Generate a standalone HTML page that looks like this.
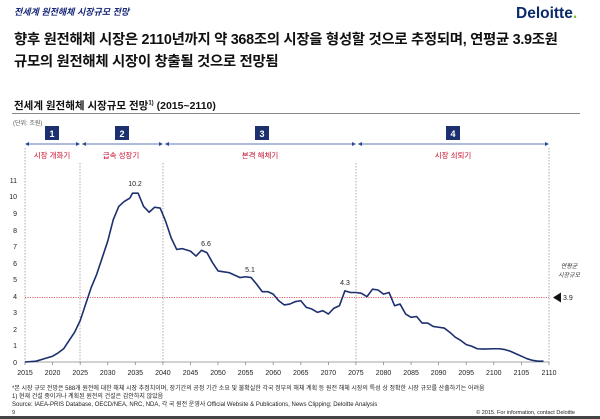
<!DOCTYPE html>
<html><head><meta charset="utf-8"><style>
body{margin:0;width:600px;height:419px;background:#fff;overflow:hidden;position:relative;font-family:"Liberation Sans","Noto Sans CJK KR",sans-serif}
.a{position:absolute;white-space:nowrap}
</style></head><body>
<div class="a" style="left:14px;top:5px;font-size:9px;font-style:italic;font-weight:bold;color:#1a2a7a">전세계 원전해체 시장규모 전망</div>
<div class="a" style="left:516px;top:5px;font-size:15.5px;font-weight:bold;color:#0b2a6b">Deloitte<span style="color:#86bc25">.</span></div>
<div class="a" style="left:14px;top:29px;font-size:14.4px;font-weight:bold;color:#111;letter-spacing:-0.3px;line-height:22px">향후 원전해체 시장은 2110년까지 약 368조의 시장을 형성할 것으로 추정되며, 연평균 3.9조원<br>규모의 원전해체 시장이 창출될 것으로 전망됨</div>
<div class="a" style="left:14px;top:98px;font-size:10.5px;font-weight:bold;color:#111">전세계 원전해체 시장규모 전망<sup style="font-size:6px">1)</sup> (2015~2110)</div>
<div class="a" style="left:12px;top:113px;width:568px;height:1px;background:#888"></div>
<div class="a" style="left:13px;top:118px;font-size:6px;color:#555">(단위: 조원)</div>
<svg class="a" style="left:0;top:0" width="600" height="419">
<g fill="#1c2f6e" font-size="8" font-weight="bold">
<rect x="45" y="126" width="14" height="14"/><rect x="115" y="126" width="14" height="14"/><rect x="255" y="126" width="14" height="14"/><rect x="446" y="126" width="14" height="14"/>
</g>
<g fill="#fff" font-size="9" font-weight="bold" text-anchor="middle" font-family="Liberation Sans">
<text x="52" y="137">1</text><text x="122" y="137">2</text><text x="262" y="137">3</text><text x="453" y="137">4</text></g>
<g stroke="#2a4a9a" stroke-width="0.8">
<line x1="27" y1="144" x2="78" y2="144"/><line x1="82" y1="144" x2="161" y2="144"/><line x1="165" y1="144" x2="354" y2="144"/><line x1="358" y1="144" x2="547" y2="144"/></g>
<g fill="#2a4a9a">
<path d="M25 144l4-2v4z M80 144l-4-2v4z M82 144l4-2v4z M163 144l-4-2v4z M165 144l4-2v4z M356 144l-4-2v4z M358 144l4-2v4z M549 144l-4-2v4z"/></g>
<g fill="#c8102e" font-size="7.5" text-anchor="middle" font-family="Liberation Sans,Noto Sans CJK KR,sans-serif">
<text x="52" y="158">시장 개화기</text><text x="121" y="158">급속 성장기</text><text x="260" y="158">본격 해체기</text><text x="453" y="158">시장 쇠퇴기</text></g>
<g stroke="#999" stroke-width="0.8" stroke-dasharray="1.5,1.5">
<line x1="25" y1="148" x2="25" y2="362"/><line x1="80" y1="163" x2="80" y2="362"/><line x1="163" y1="163" x2="163" y2="362"/><line x1="356" y1="163" x2="356" y2="362"/><line x1="549" y1="148" x2="549" y2="362"/></g>
<line x1="25" y1="362" x2="549" y2="362" stroke="#888" stroke-width="0.8"/>
<g stroke="#888" stroke-width="0.8">
<path d="M25 362v3M52.6 362v3M80.2 362v3M107.7 362v3M135.3 362v3M162.9 362v3M190.5 362v3M218 362v3M245.6 362v3M273.2 362v3M300.8 362v3M328.4 362v3M355.9 362v3M383.5 362v3M411.1 362v3M438.6 362v3M466.2 362v3M493.8 362v3M521.4 362v3M549 362v3"/></g>
<line x1="25" y1="297.5" x2="549" y2="297.5" stroke="#e06666" stroke-width="0.9" stroke-dasharray="1.2,1.2"/>
<g font-size="7" fill="#222" text-anchor="end" font-family="Liberation Sans">
<text x="17" y="365">0</text><text x="17" y="348">1</text><text x="17" y="332">2</text><text x="17" y="315">3</text><text x="17" y="299">4</text><text x="17" y="282">5</text><text x="17" y="266">6</text><text x="17" y="249">7</text><text x="17" y="233">8</text><text x="17" y="216">9</text><text x="17" y="199">10</text><text x="17" y="183">11</text></g>
<g font-size="7" fill="#222" text-anchor="middle" font-family="Liberation Sans">
<text x="25" y="375">2015</text><text x="52.6" y="375">2020</text><text x="80.2" y="375">2025</text><text x="107.7" y="375">2030</text><text x="135.3" y="375">2035</text><text x="162.9" y="375">2040</text><text x="190.5" y="375">2045</text><text x="218" y="375">2050</text><text x="245.6" y="375">2055</text><text x="273.2" y="375">2060</text><text x="300.8" y="375">2065</text><text x="328.4" y="375">2070</text><text x="355.9" y="375">2075</text><text x="383.5" y="375">2080</text><text x="411.1" y="375">2085</text><text x="438.6" y="375">2090</text><text x="466.2" y="375">2095</text><text x="493.8" y="375">2100</text><text x="521.4" y="375">2105</text><text x="549" y="375">2110</text>
<text x="135" y="186">10.2</text><text x="206" y="246">6.6</text><text x="250" y="272">5.1</text><text x="345" y="285">4.3</text></g>
<g transform="translate(25,362) scale(5.516,-16.55)">
<polyline fill="none" stroke="#1c2f6e" stroke-width="1.6" vector-effect="non-scaling-stroke" stroke-linejoin="round" points="0,0 2,0.05 4,0.25 5,0.35 6,0.55 7,0.8 8,1.3 9,1.8 10,2.5 11,3.5 12,4.5 13,5.3 14,6.3 15,7.3 16,8.6 17,9.4 18,9.7 19,9.9 19.5,10.2 20.5,10.2 21.5,9.4 22.5,9.05 23.5,9.35 24.5,9.3 25.5,8.5 26.5,7.5 27.5,6.8 28.5,6.85 30,6.7 31,6.4 32,6.75 33,6.6 34,6.0 35,5.5 36,5.45 37,5.4 38,5.25 39,5.1 40,5.15 41,5.1 42,4.7 43,4.25 44,4.25 45,4.1 46,3.7 47,3.45 48,3.5 49,3.65 50,3.7 51,3.3 52,3.2 53,3.0 54,3.1 55,2.9 56,3.25 57,3.4 58,4.3 59,4.2 60,4.2 61,4.15 62,3.95 63,4.4 64,4.35 65,4.1 66,4.2 67,3.4 68,3.5 69,2.9 70,2.7 71,2.75 72,2.35 73,2.35 74,2.15 75,2.1 76,2.05 77,1.8 78,1.5 79,1.3 80,1.05 81,0.95 82,0.8 83,0.78 85,0.8 86,0.8 87,0.75 88,0.65 89,0.5 90,0.35 91,0.2 92,0.1 93,0.05 94,0.05"/></g>
<path d="M553 297.5l8-5v10z" fill="#111"/>
<text x="563" y="300" font-size="7" fill="#222" font-family="Liberation Sans">3.9</text>
<g font-size="6" font-style="italic" fill="#333" text-anchor="middle" font-family="Liberation Sans,Noto Sans CJK KR,sans-serif"><text x="569" y="268">연평균</text><text x="569" y="277">시장규모</text></g>
<g font-size="6" fill="#222" font-family="Liberation Sans,Noto Sans CJK KR,sans-serif">
<text x="12" y="390">*본 시장 규모 전망은 588개 원전에 대한 해체 시장 추정치이며, 장기간의 공정 기간 소요 및 불확실한 각국 정부의 해체 계획 등 원전 해체 시장의 특성 상 정확한 시장 규모를 산출하기는 어려움</text>
<text x="12" y="398">1) 현재 건설 중이거나 계획된 원전의 건설은 감안하지 않았음</text>
<text x="12" y="406">Source: IAEA-PRIS Database, OECD/NEA, NRC, NDA, 각 국 원전 운영사 Official Website &amp; Publications, News Clipping; Deloitte Analysis</text>
<text x="12" y="414" font-size="5.5">9</text>
<text x="575" y="414" text-anchor="end" font-size="5.5">© 2015. For information, contact Deloitte</text></g>
<rect x="0" y="416" width="600" height="3" fill="#444"/>
</svg>
</body></html>
